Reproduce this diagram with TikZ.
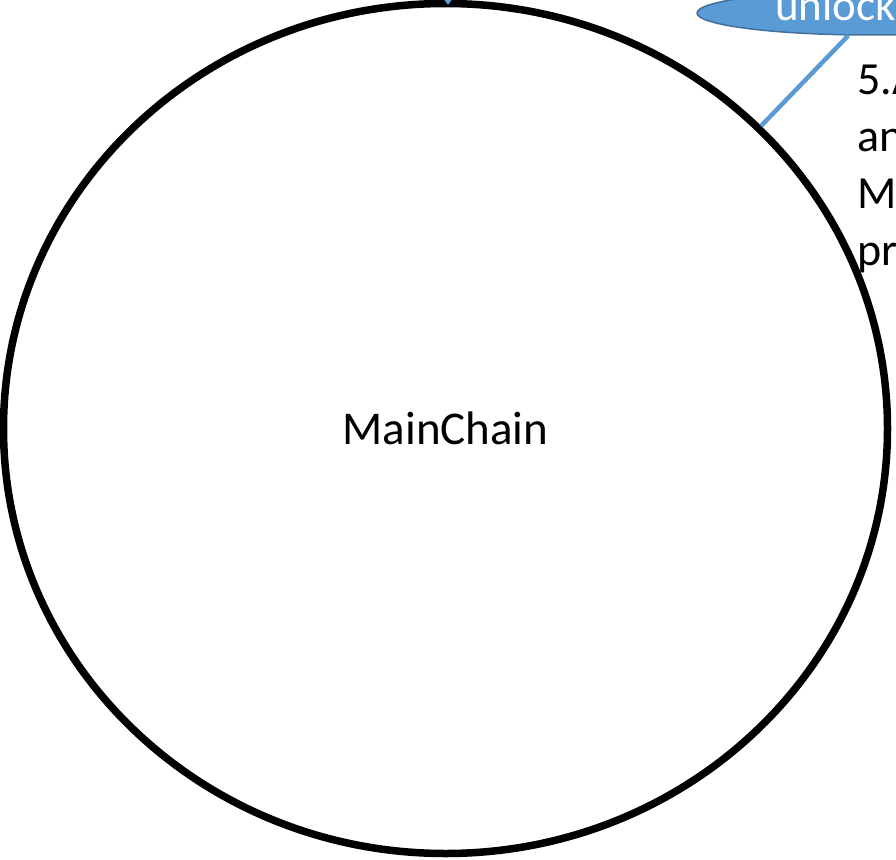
\documentclass[tikz,border=0pt]{standalone}
\usepackage{fontspec}
\setmainfont{Carlito}
\usetikzlibrary{shapes.geometric,arrows.meta}
\definecolor{accblue}{HTML}{5B9BD5}
\definecolor{accborder}{HTML}{41719C}
\begin{document}
\begin{tikzpicture}[x=1pt,y=-1pt,
  chain/.style={ellipse,draw=black,line width=7.5pt,inner sep=0pt,
    minimum width=884pt,minimum height=850pt,font=\fontsize{47}{56}\selectfont},
  bubble/.style={ellipse,fill=accblue,draw=accborder,line width=1.5pt,inner sep=0pt,
    minimum width=346pt,minimum height=44pt},
  bubbletext/.style={text=white,inner sep=0pt,font=\fontsize{45}{54}\selectfont},
  note/.style={align=left,inner sep=0pt,font=\fontsize{46}{57}\selectfont},
  link/.style={draw=accblue,line width=4.5pt}]
\useasboundingbox (0,0) rectangle (896,859);
\clip (0,0) rectangle (896,859);
\node[chain] (main) at (445.5,428.5) {MainChain};
\node[bubble] (unlock) at (870,13) {};
\node[bubbletext,anchor=base west] (unlocktext) at (775,21) {unlock};
\coordinate (hit) at (761,126);
\draw[link] (unlock) -- (hit);
\node[note,anchor=north west] (step5) at (857,65) {5.A\\an\\M\\pr};
\coordinate (topsrc) at (448,-40);
\draw[link,-{Triangle[width=14pt,length=10pt]}] (topsrc) -- (448,5);
\end{tikzpicture}
\end{document}
